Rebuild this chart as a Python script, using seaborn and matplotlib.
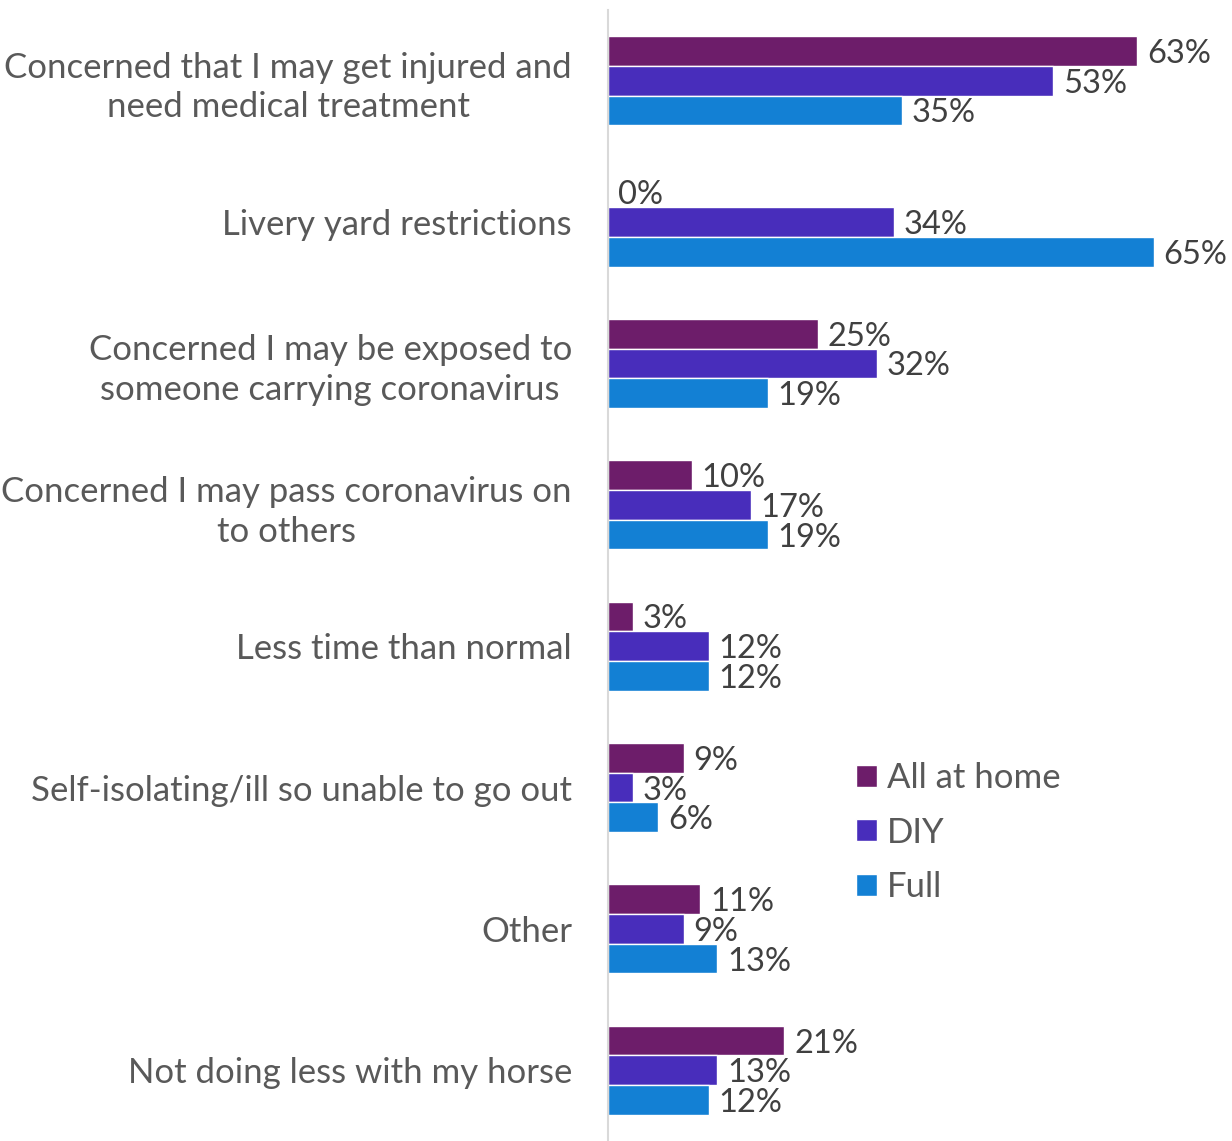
import matplotlib
matplotlib.use("Agg")
import matplotlib.pyplot as plt
import seaborn as sns
import pandas as pd

reasons = [
    "Concerned that I may get injured and\nneed medical treatment",
    "Livery yard restrictions",
    "Concerned I may be exposed to\nsomeone carrying coronavirus",
    "Concerned I may pass coronavirus on\nto others",
    "Less time than normal",
    "Self-isolating/ill so unable to go out",
    "Other",
    "Not doing less with my horse",
]
groups = ["All at home", "DIY", "Full"]
all_at_home = [63, 0, 25, 10, 3, 9, 11, 21]
diy = [53, 34, 32, 17, 12, 3, 9, 13]
full = [35, 65, 19, 19, 12, 6, 13, 12]

df = pd.DataFrame({
    "reason": reasons * 3,
    "group": [groups[0]] * 8 + [groups[1]] * 8 + [groups[2]] * 8,
    "pct": all_at_home + diy + full,
})

sns.set_theme(style="white")
plt.rcParams["font.family"] = ["Lato", "DejaVu Sans"]

colours = ["#6D1D6A", "#482DBB", "#1380D4"]

fig = plt.figure(figsize=(12.32, 11.41), dpi=100)
ax = fig.add_axes([608 / 1232, 0, 1 - 608 / 1232, 1 - 10 / 1141])

sns.barplot(data=df, y="reason", x="pct", hue="group", orient="h",
            palette=colours, width=0.63, saturation=1, ax=ax)

for cont in ax.containers:
    labels = ax.bar_label(cont, fmt="%d%%", padding=7, fontsize=23.5, color="#404040")
    for t in labels:
        t.set_va("center_baseline")

ax.set_xlim(0, 74.3)
ax.set_xlabel("")
ax.set_ylabel("")
ax.set_xticks([])
ax.tick_params(axis="y", length=0, pad=26, labelsize=25, labelcolor="#595959")
for lab in ax.get_yticklabels():
    lab.set_multialignment("center")
    lab.set_linespacing(1.3)
for s in ["top", "right", "bottom"]:
    ax.spines[s].set_visible(False)
ax.spines["left"].set_color("#D9D9D9")
ax.spines["left"].set_linewidth(1.5)

ax.legend(loc="upper left", bbox_to_anchor=(856 / 1232, 1 - 762 / 1141),
          bbox_transform=fig.transFigure, frameon=False, fontsize=25,
          borderpad=0, borderaxespad=0,
          handlelength=0.6, handleheight=0.6, handletextpad=0.3,
          labelspacing=0.65, labelcolor="#595959")

fig.savefig("out.png", dpi=100)
